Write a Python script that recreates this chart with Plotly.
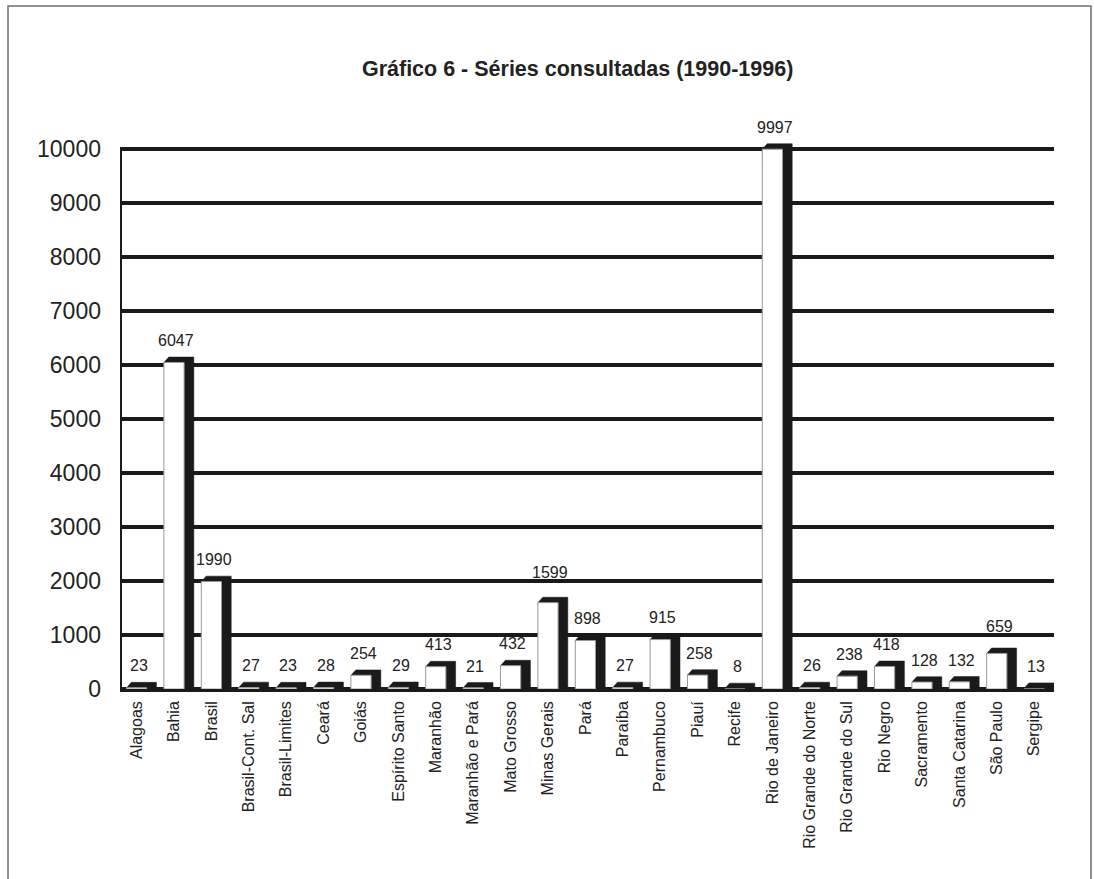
import plotly.graph_objects as go

# Series consulted per region, 1990-1996
categorias = [
    "Alagoas", "Bahia", "Brasil", "Brasil-Cont. Sal", "Brasil-Limites", "Ceará",
    "Goiás", "Espírito Santo", "Maranhão", "Maranhão e Pará", "Mato Grosso",
    "Minas Gerais", "Pará", "Paraíba", "Pernambuco", "Piauí", "Recife",
    "Rio de Janeiro", "Rio Grande do Norte", "Rio Grande do Sul", "Rio Negro",
    "Sacramento", "Santa Catarina", "São Paulo", "Sergipe",
]
series = [
    23, 6047, 1990, 27, 23, 28, 254, 29, 413, 21, 432, 1599, 898, 27, 915,
    258, 8, 9997, 26, 238, 418, 128, 132, 659, 13,
]
y_ticks = list(range(0, 10001, 1000))

TITLE = "Gráfico 6 - Séries consultadas (1990-1996)"
FONT = "Arial, Liberation Sans, sans-serif"

# 3-D column geometry (category units horizontally, value units vertically)
HALF_W = 0.27      # half width of the front face
DEPTH_X = 0.26     # horizontal depth of the side face
SLANT_X = 0.13     # slant of the top face
DEPTH_Y = 100      # vertical depth of the top face

depth_x, depth_y = [], []
face_x, face_y = [], []
for i, v in enumerate(series):
    x0, x1 = i - HALF_W, i + HALF_W
    depth_x += [x0, x0 + SLANT_X, x1 + DEPTH_X, x1 + DEPTH_X, x1, x0, None]
    depth_y += [v, v + DEPTH_Y, v + DEPTH_Y, 0, 0, v, None]
    face_x += [x0, x1, x1, x0, x0, None]
    face_y += [0, 0, v, v, 0, None]

fig = go.Figure()

# left wall edge of the chart
fig.add_trace(go.Scatter(
    x=[-0.444, -0.444], y=[0, y_ticks[-1]], mode="lines",
    line=dict(color="#1a1a1a", width=4), cliponaxis=False,
    hoverinfo="skip", showlegend=False,
))

# dark side and top faces
fig.add_trace(go.Scatter(
    x=depth_x, y=depth_y, mode="lines", fill="toself",
    fillcolor="#1a1a1a", line=dict(color="#1a1a1a", width=0.5),
    hoverinfo="skip", showlegend=False,
))

# white front faces
fig.add_trace(go.Scatter(
    x=face_x, y=face_y, mode="lines", fill="toself",
    fillcolor="white", line=dict(color="#9a9a9a", width=1),
    hoverinfo="skip", showlegend=False,
))

# value labels above each column; a label whose digits would cross a
# gridline is moved to rest just on top of that gridline
LABEL_GAP = 110     # gap between column top and label box (value units)
GLYPH_LOW = 74      # box bottom to digit baseline (value units)
GLYPH_H = 213       # digit height (value units)
LINE_HALF = 37      # half thickness of a gridline (value units)
for i, v in enumerate(series):
    bottom = v + DEPTH_Y + LABEL_GAP
    lo, hi = bottom + GLYPH_LOW, bottom + GLYPH_LOW + GLYPH_H
    for g in y_ticks[1:]:
        if lo < g + LINE_HALF and hi > g - LINE_HALF:
            bottom = g - 30
            break
    fig.add_annotation(
        x=i + 0.06, y=bottom, text=str(v), showarrow=False,
        yanchor="bottom",
        font=dict(family=FONT, size=16, color="#222222"),
    )

# outer frame
fig.add_shape(
    type="rect", xref="paper", yref="paper",
    x0=-0.1199, x1=1.0396, y0=-0.40, y1=1.2046,
    line=dict(color="#6e6e6e", width=1.5), fillcolor="rgba(0,0,0,0)",
    layer="below",
)

fig.update_layout(
    width=1094, height=879,
    margin=dict(l=120, r=40, t=122, b=190),
    paper_bgcolor="white", plot_bgcolor="white",
    font=dict(family=FONT, color="#222222"),
    title=dict(
        text=f"<b>{TITLE}</b>", xref="container", yref="container",
        x=0.528, y=0.9226, xanchor="center", yanchor="middle",
        font=dict(family=FONT, size=21.5, color="#222222"),
    ),
    showlegend=False,
    xaxis=dict(
        range=[-0.444, 24.53], tickmode="array",
        tickvals=list(range(len(categorias))), ticktext=categorias,
        tickangle=-90, showgrid=False, zeroline=False, showline=False,
        ticks="", ticklabelstandoff=8,
        tickfont=dict(family=FONT, size=16, color="#222222"),
    ),
    yaxis=dict(
        range=[0, 10500], tickmode="array", tickvals=y_ticks,
        ticktext=[str(t) for t in y_ticks],
        showgrid=True, gridcolor="#1a1a1a", gridwidth=4,
        zeroline=True, zerolinecolor="#1a1a1a", zerolinewidth=5,
        showline=False, ticks="", ticklabelstandoff=18,
        tickfont=dict(family=FONT, size=23, color="#222222"),
    ),
)

fig.write_html("out.html")
